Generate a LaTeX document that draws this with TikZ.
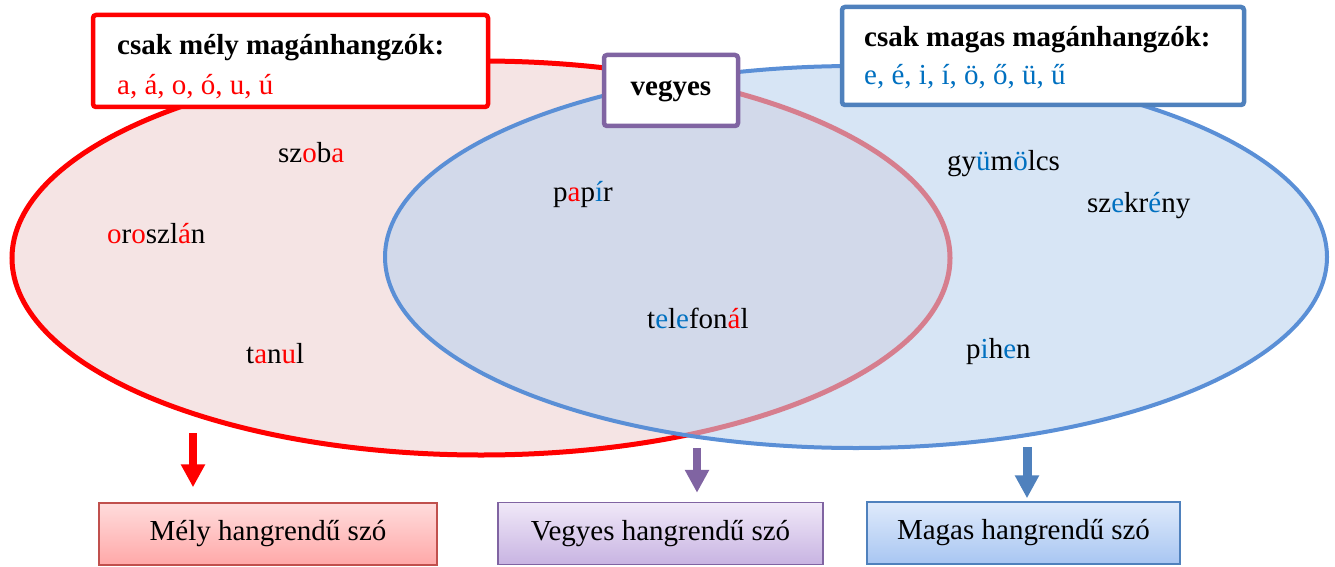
\documentclass[tikz,border=0pt]{standalone}
\usepackage{fontspec}
\setmainfont{Liberation Serif}
\usepackage{xcolor}
\usetikzlibrary{arrows.meta}

\definecolor{tiefrot}{HTML}{FF0000}
\definecolor{tieffill}{HTML}{F5E4E4}
\definecolor{hochblau}{HTML}{5A8FD6}
\definecolor{hochfill}{HTML}{BCD3EE}
\definecolor{kastenblau}{HTML}{4F81BD}
\definecolor{vokalblau}{HTML}{0070C0}
\definecolor{mischlila}{HTML}{8064A2}
\definecolor{tiefrand}{HTML}{C0504D}
\definecolor{tiefoben}{HTML}{FFDCDC}
\definecolor{tiefunten}{HTML}{FFA8A8}
\definecolor{mischoben}{HTML}{F0E8F8}
\definecolor{mischunten}{HTML}{C8B4E2}
\definecolor{hochoben}{HTML}{DFEAFB}
\definecolor{hochunten}{HTML}{A8C6F2}

\newcommand{\tief}[1]{\textcolor{tiefrot}{#1}}
\newcommand{\hoch}[1]{\textcolor{vokalblau}{#1}}

\tikzset{
  wort/.style={anchor=base west, inner sep=0pt, font=\fontsize{29}{34}\selectfont},
  fettwort/.style={wort, font=\fontsize{29}{34}\selectfont\bfseries},
  kopfkasten/.style={draw, fill=white, rounded corners=3pt, line width=4.5pt, inner sep=0pt},
  fusskasten/.style={draw, line width=1.5pt, inner sep=0pt, minimum height=62pt,
    font=\fontsize{29}{34}\selectfont},
  pfeil/.style={line width=8pt, -{Triangle[width=23pt,length=23pt]}}
}

\begin{document}
\begin{tikzpicture}[x=1pt,y=-1pt]
\useasboundingbox (0,0) rectangle (1335,567);
% die beiden Mengen:
\fill[tieffill] (481,258) ellipse [x radius=469pt, y radius=197pt];
\draw[tiefrot, line width=5pt] (481,258) ellipse [x radius=469pt, y radius=197pt];
\fill[hochfill, opacity=0.6] (856,257) ellipse [x radius=471pt, y radius=191pt];
\draw[hochblau, line width=4pt] (856,257) ellipse [x radius=471pt, y radius=191pt];

% Kaesten oben:
\node[kopfkasten, draw=tiefrot, minimum width=395pt, minimum height=92pt] (tiefkasten) at (290.5,61) {};
\node[fettwort] (tieftitel) at (117,55) {csak mély magánhangzók:};
\node[wort, text=tiefrot] (tiefvokale) at (117,95) {a, á, o, ó, u, ú};
\node[kopfkasten, draw=mischlila, minimum width=134pt, minimum height=71pt] (mischkasten) at (671,90.5) {};
\node[fettwort, anchor=base] (mischtitel) at (671,96) {vegyes};
\node[kopfkasten, draw=kastenblau, minimum width=402pt, minimum height=98pt] (hochkasten) at (1043,56) {};
\node[fettwort] (hochtitel) at (864,47) {csak magas magánhangzók:};
\node[wort, text=vokalblau] (hochvokale) at (864,85) {e, é, i, í, ö, ő, ü, ű};

% Woerter:
\node[wort] (szoba) at (278,162) {sz\tief{o}b\tief{a}};
\node[wort] (oroszlan) at (107,243) {\tief{o}r\tief{o}szl\tief{á}n};
\node[wort] (tanul) at (246,363) {t\tief{a}n\tief{u}l};
\node[wort] (papir) at (553,201) {p\tief{a}p\hoch{í}r};
\node[wort] (telefonal) at (647,328) {t\hoch{e}l\hoch{e}fon\tief{á}l};
\node[wort] (gyumolcs) at (947,170) {gy\hoch{ü}m\hoch{ö}lcs};
\node[wort] (szekreny) at (1087,212) {sz\hoch{e}kr\hoch{é}ny};
\node[wort] (pihen) at (966,358) {p\hoch{i}h\hoch{e}n};

% Kaesten unten:
\node[fusskasten, draw=tiefrand, top color=tiefoben, bottom color=tiefunten, minimum width=338pt] (tiefwort) at (268,534) {Mély hangrendű szó};
\node[fusskasten, draw=mischlila, top color=mischoben, bottom color=mischunten, minimum width=325pt] (mischwort) at (660.5,533.5) {Vegyes hangrendű szó};
\node[fusskasten, draw=kastenblau, top color=hochoben, bottom color=hochunten, minimum width=313pt] (hochwort) at (1023.5,533) {Magas hangrendű szó};

% Pfeile:
\coordinate (tiefpfeil) at (193,433);
\coordinate (mischpfeil) at (697,448);
\coordinate (hochpfeil) at (1027,447);
\draw[pfeil, tiefrot, shorten >=15pt] (tiefpfeil) -- (tiefpfeil |- tiefwort.north);
\draw[pfeil, mischlila, shorten >=9pt] (mischpfeil) -- (mischpfeil |- mischwort.north);
\draw[pfeil, kastenblau, line width=9pt, shorten >=3pt] (hochpfeil) -- (hochpfeil |- hochwort.north);
\end{tikzpicture}
\end{document}
